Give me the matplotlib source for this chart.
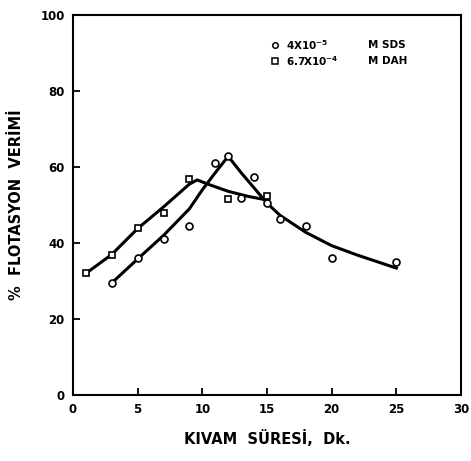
import matplotlib
matplotlib.use('Agg')
import matplotlib.pyplot as plt
import numpy as np

plt.rcParams['font.family'] = ['DejaVu Sans']
plt.rcParams['font.weight'] = 'bold'

# measured points
sds_x = [3, 5, 7, 9, 11, 12, 13, 14, 15, 16, 18, 20, 25]
sds_y = [29.6, 36.0, 41.0, 44.6, 61.0, 63.0, 51.8, 57.4, 50.6, 46.2, 44.5, 36.1, 34.9]
dah_x = [1, 3, 5, 7, 9, 12, 15]
dah_y = [32.0, 36.8, 43.9, 47.8, 56.8, 51.6, 52.4]

# hand drawn fit curves
sds_fit_x = [3, 5, 7, 9, 10, 11, 12, 13, 14, 15, 16, 18, 20, 22, 25]
sds_fit_y = [29.5, 35.8, 42.0, 49.0, 54.0, 58.5, 62.8, 58.5, 54.5, 50.5, 47.3, 42.8, 39.3, 36.8, 33.4]
dah_fit_x = [1, 3, 5, 7, 9, 9.6, 10.5, 12, 13.5, 15]
dah_fit_y = [32.0, 37.0, 43.8, 49.5, 55.5, 56.6, 55.4, 53.6, 52.3, 51.3]

legend_labels = [('4X10$^{-5}$', 'M SDS'), ('6.7X10$^{-4}$', 'M DAH')]

fig = plt.figure(figsize=(4.71, 4.61), dpi=100)
ax = fig.add_axes([73 / 471, 66 / 461, 388 / 471, 380 / 461])

ax.plot(sds_fit_x, sds_fit_y, color='black', lw=2.2)
ax.plot(dah_fit_x, dah_fit_y, color='black', lw=2.2)
ax.plot(sds_x, sds_y, 'o', mfc='white', mec='black', ms=5, mew=1.2)
ax.plot(dah_x, dah_y, 's', mfc='white', mec='black', ms=5, mew=1.2)

ax.set_xlim(0, 30)
ax.set_ylim(0, 100)
ax.set_xticks(range(0, 31, 5))
ax.set_yticks(range(0, 101, 20))
ax.tick_params(direction='in', length=5, width=1.3, labelsize=8.5, pad=6)
for lab in ax.get_xticklabels() + ax.get_yticklabels():
    lab.set_fontweight('bold')
for s in ax.spines.values():
    s.set_linewidth(1.5)

ax.set_xlabel('KIVAM  SÜRESİ,  Dk.', fontsize=10.5, fontweight='bold', labelpad=10)
ax.set_ylabel('%  FLOTASYON  VERİMİ', fontsize=10.5, fontweight='bold', labelpad=12)

# legend
for i, (mk, (conc, name)) in enumerate(zip(['o', 's'], legend_labels)):
    yy = 0.92 - i * 0.042
    ax.plot([0.52], [yy], mk, mfc='white', mec='black', ms=4, mew=1.1,
            transform=ax.transAxes, clip_on=False)
    ax.text(0.55, yy, conc, transform=ax.transAxes, fontsize=7.5,
            fontweight='bold', va='center')
    ax.text(0.76, yy, name, transform=ax.transAxes, fontsize=7.5,
            fontweight='bold', va='center')

fig.savefig('out.png', dpi=100)
